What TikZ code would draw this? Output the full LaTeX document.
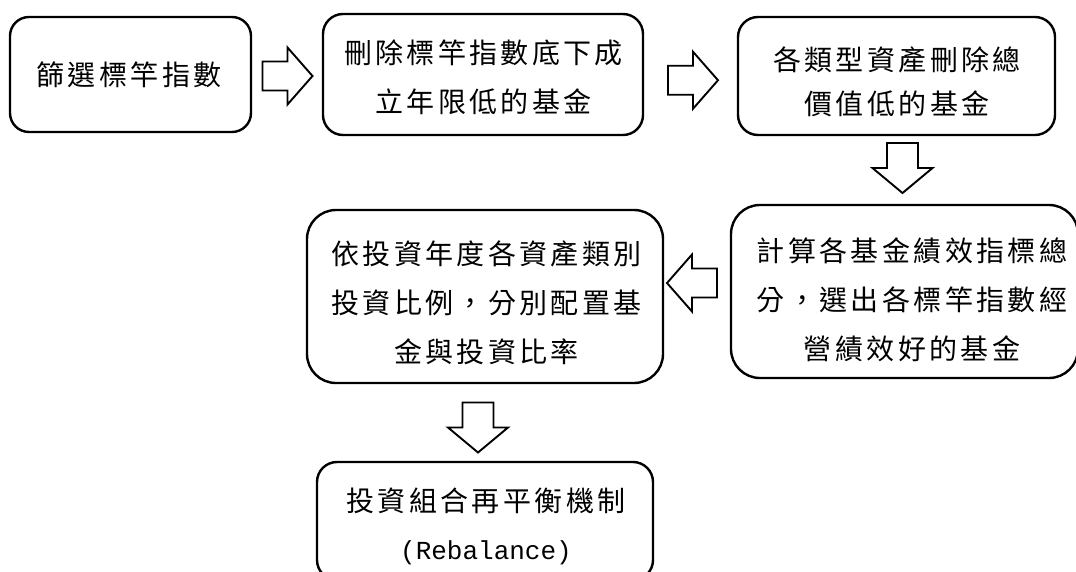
\documentclass[tikz,border=0pt]{standalone}
\usepackage{fontspec}
\setmainfont{Noto Sans CJK TC}[LetterSpace=12]
\newfontfamily\latinmono{Liberation Mono}
\usetikzlibrary{calc}

\tikzset{
  box/.style={draw=black, line width=2.4pt, fill=white, rounded corners=#1, inner sep=0pt},
  txt/.style={align=center, inner sep=0pt, font=\fontsize{28pt}{#1}\selectfont},
  % hollow block arrow pointing right
  rarrow/.pic={\draw[line width=1.9pt, line join=miter, fill=white]
      (-25,-14.5) -- (0,-14.5) -- (0,-28.5) -- (25,0) -- (0,28.5) -- (0,14.5) -- (-25,14.5) -- cycle;},
  % hollow block arrow pointing down
  darrow/.pic={\draw[line width=1.9pt, line join=miter, fill=white]
      (-15.5,-25) -- (15.5,-25) -- (15.5,0) -- (30,0) -- (0,25) -- (-30,0) -- (-15.5,0) -- cycle;}
}

\begin{document}
\begin{tikzpicture}[x=1pt, y=-1pt]
\useasboundingbox (0,0) rectangle (1076,571);

% process boxes
\node[box=19pt, minimum width=241pt, minimum height=115pt] (b1) at (130.5,74.5) {};
\node[box=20pt, minimum width=320pt, minimum height=121pt] (b2) at (483,74.5) {};
\node[box=20pt, minimum width=317pt, minimum height=118pt] (b3) at (896.5,76) {};
\node[box=29pt, minimum width=347pt, minimum height=173pt] (b4) at (904.5,291.5) {};
\node[box=29pt, minimum width=356pt, minimum height=173pt] (b5) at (485,296.5) {};
\node[box=20pt, minimum width=336pt, minimum height=118pt] (b6) at (485,521) {};

% box texts
\node[txt=49pt] (t1) at (129,75) {篩選標竿指數};
\node[txt=49pt] (t2) at (483.5,77.5) {刪除標竿指數底下成\\立年限低的基金};
\node[txt=44pt] (t3) at (897,81.5) {各類型資產刪除總\\價值低的基金};
\node[txt=49pt] (t4) at (912,299.5) {計算各基金績效指標總\\分，選出各標竿指數經\\營績效好的基金};
\node[txt=49pt] (t5) at (486.5,303) {依投資年度各資產類別\\投資比例，分別配置基\\金與投資比率};
\node[txt=48pt] (t6) at (486,526) {投資組合再平衡機制\\{\latinmono\fontsize{26pt}{48pt}\selectfont (Rebalance)}};

% block arrows between the steps
\pic at ($(b1.east)!0.5!(b2.west)+(0.5,1.5)$) {rarrow};
\pic at ($(b2.east)!0.5!(b3.west)+(2.5,5)$) {rarrow};
\pic at ($(b3.south)!0.5!(b4.north)+(2,-2)$) {darrow};
\pic[xscale=-1] at ($(b4.west)!0.5!(b5.east)+(-5,-11)$) {rarrow};
\pic at ($(b5.south)!0.5!(b6.north)+(-7,5)$) {darrow};
\end{tikzpicture}
\end{document}
